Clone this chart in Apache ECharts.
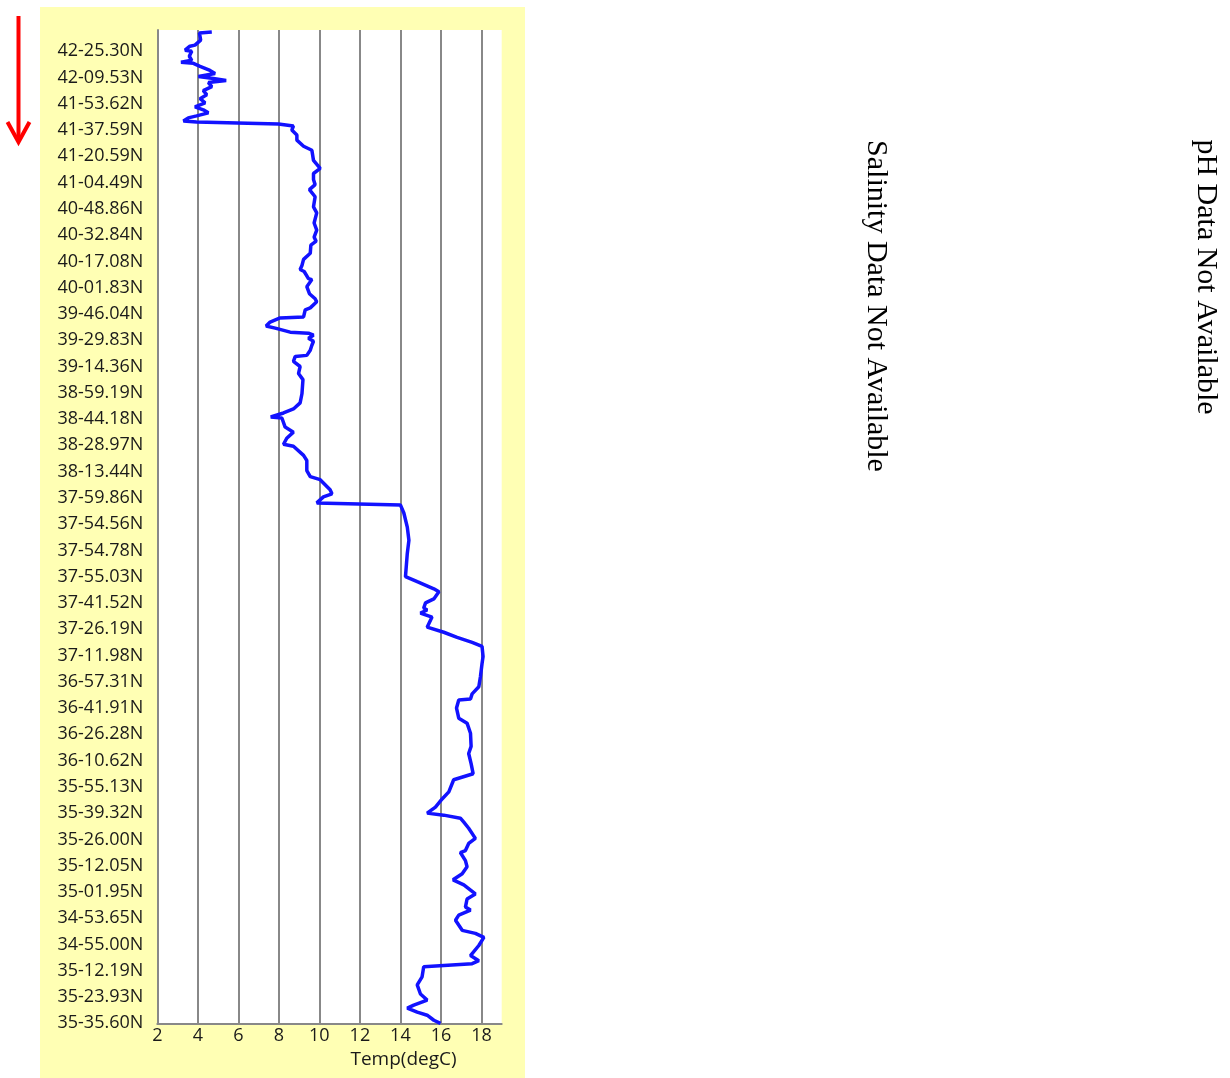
<!DOCTYPE html>
<html>
<head>
<meta charset="utf-8">
<script src="https://cdn.jsdelivr.net/npm/echarts@6/dist/echarts.min.js"></script>
<style>
html,body{margin:0;padding:0;background:#fff;}
#chart{width:1230px;height:1078px;}
</style>
</head>
<body>
<div id="chart"></div>
<script>
// Latitude tick labels, listed top (start of track) to bottom (end of track)
const latLabels = [
  '42-25.30N','42-09.53N','41-53.62N','41-37.59N','41-20.59N','41-04.49N',
  '40-48.86N','40-32.84N','40-17.08N','40-01.83N','39-46.04N','39-29.83N',
  '39-14.36N','38-59.19N','38-44.18N','38-28.97N','38-13.44N','37-59.86N',
  '37-54.56N','37-54.78N','37-55.03N','37-41.52N','37-26.19N','37-11.98N',
  '36-57.31N','36-41.91N','36-26.28N','36-10.62N','35-55.13N','35-39.32N',
  '35-26.00N','35-12.05N','35-01.95N','34-53.65N','34-55.00N','35-12.19N',
  '35-23.93N','35-35.60N'
];
const recsPerLabel = 26;     // records between two latitude labels
const totalRecords = 983;    // records shown along the track axis

// Record number (counted back from the end of the track) for each sample
const trackRecord = [
  981,980,973,968,967,963,962,957,953,951,950,947,943,940,937,935,933,931,927,923,
  919,915,911,907,904,901,898,896,893,892,890,888,884,879,874,868,864,854,846,841,
  835,830,825,818,808,802,792,785,778,774,770,762,756,750,746,744,737,736,729,722,
  717,714,708,706,699,698,694,690,688,684,683,681,678,675,671,666,661,660,655,650,
  643,637,623,614,608,604,600,599,590,585,579,573,571,562,557,547,541,538,528,524,
  521,515,513,505,491,478,465,442,437,430,427,420,416,411,409,406,402,392,387,382,
  377,373,363,356,343,333,326,321,320,312,302,297,287,274,267,257,247,241,229,222,
  214,208,206,203,199,193,183,178,171,169,161,155,148,142,137,128,123,115,112,107,
  102,92,89,85,77,67,62,59,56,46,38,29,23,18,15,11,8,3,0
];
// Sea surface temperature (degC) for each sample
const tempC = [
  4.69,4.08,4.14,3.86,3.61,3.37,3.70,3.58,3.70,3.17,3.78,4.11,4.60,4.85,4.03,4.77,5.40,4.52,4.69,4.27,
  4.44,4.11,4.36,3.86,4.27,4.52,3.94,3.53,3.29,3.94,7.98,8.72,8.64,8.89,8.89,9.22,9.63,9.71,10.04,9.71,
  9.71,9.79,9.51,9.79,9.71,9.87,9.74,9.87,9.74,9.84,9.58,9.55,9.22,9.14,9.05,9.25,9.46,9.63,9.38,9.51,
  9.79,9.87,9.55,9.30,9.22,8.06,7.57,7.37,7.82,8.56,9.46,9.71,9.46,9.71,9.63,9.55,9.38,8.81,8.72,9.05,
  8.97,9.19,9.14,9.05,8.72,8.23,7.60,8.15,8.31,8.72,8.39,8.23,8.72,9.22,9.38,9.38,9.55,10.04,10.53,10.62,
  10.20,9.87,14.00,14.17,14.34,14.42,14.34,14.25,14.83,15.65,15.90,15.65,15.24,15.15,15.32,14.99,15.56,15.32,16.14,16.80,
  17.54,18.03,18.08,18.03,17.95,17.87,17.54,17.46,16.88,16.77,16.88,17.29,17.46,17.49,17.37,17.49,17.59,16.63,16.39,16.06,
  15.73,15.32,16.14,16.96,17.13,17.37,17.70,17.37,17.21,16.96,17.21,17.29,17.05,16.60,17.13,17.70,17.29,17.21,17.46,16.88,
  16.72,17.05,17.70,18.12,17.87,17.46,17.87,17.54,15.15,15.07,14.83,14.99,15.32,14.66,14.34,14.83,15.32,15.65,15.98
];
const tempTicks = { min: 2, max: 19, interval: 2 };

const seriesData = tempC.map((t, i) => [t, trackRecord[i]]);

const chart = echarts.init(document.getElementById('chart'), null, { renderer: 'canvas' });
const axisGrey = '#888888';
chart.setOption({
  animation: false,
  backgroundColor: '#ffffff',
  graphic: [
    { type: 'rect', z: -10, shape: { x: 40, y: 7, width: 485, height: 1071 }, style: { fill: '#ffffb4' } },
    { type: 'line', z: 10, shape: { x1: 18.5, y1: 16, x2: 18.5, y2: 140 }, style: { stroke: '#ff0000', lineWidth: 4 } },
    { type: 'polyline', z: 10, shape: { points: [[7.5, 122], [18.5, 142], [29.5, 122]] }, style: { stroke: '#ff0000', lineWidth: 4, fill: null } },
    { type: 'text', x: 876, y: 306, rotation: -Math.PI / 2,
      style: { text: 'Salinity Data Not Available', font: '30px "Liberation Serif", "Times New Roman", serif', fill: '#000', align: 'center', verticalAlign: 'middle' } },
    { type: 'text', x: 1206, y: 277, rotation: -Math.PI / 2,
      style: { text: 'pH Data Not Available', font: '30px "Liberation Serif", "Times New Roman", serif', fill: '#000', align: 'center', verticalAlign: 'middle' } }
  ],
  grid: {
    left: 157.3, right: 728.3, top: 30, bottom: 54.7,
    show: true, backgroundColor: '#ffffff', borderWidth: 0
  },
  xAxis: {
    type: 'value',
    min: tempTicks.min, max: tempTicks.max, interval: tempTicks.interval,
    name: 'Temp(degC)',
    nameLocation: 'middle',
    nameGap: 24,
    nameTextStyle: { fontFamily: 'Open Sans', fontSize: 19, color: '#1a1a1a', padding: [0, 0, 0, 148] },
    axisLine: { show: true, lineStyle: { color: axisGrey, width: 2 } },
    axisTick: { show: false },
    axisLabel: {
      fontFamily: 'Open Sans', fontSize: 18, color: '#1a1a1a', margin: 4,
      showMaxLabel: false,
      formatter: v => (v % tempTicks.interval === 0 ? String(v) : '')
    },
    splitLine: { show: true, showMaxLine: false, lineStyle: { color: axisGrey, width: 2 } }
  },
  yAxis: {
    type: 'value',
    min: 0, max: totalRecords, interval: recsPerLabel,
    axisLine: { show: true, onZero: false, lineStyle: { color: axisGrey, width: 2 } },
    axisTick: { show: false },
    splitLine: { show: false },
    axisLabel: {
      fontFamily: 'Open Sans', fontSize: 18, color: '#1a1a1a', margin: 14,
      showMaxLabel: true,
      formatter: v => {
        if (v % recsPerLabel !== 0) return '';
        const k = latLabels.length - 1 - v / recsPerLabel;
        return latLabels[k] || '';
      }
    }
  },
  series: [{
    type: 'line',
    data: seriesData,
    symbol: 'none',
    smooth: false,
    lineStyle: { color: '#1212ff', width: 3.5 },
    clip: true
  }]
});
</script>
</body>
</html>
